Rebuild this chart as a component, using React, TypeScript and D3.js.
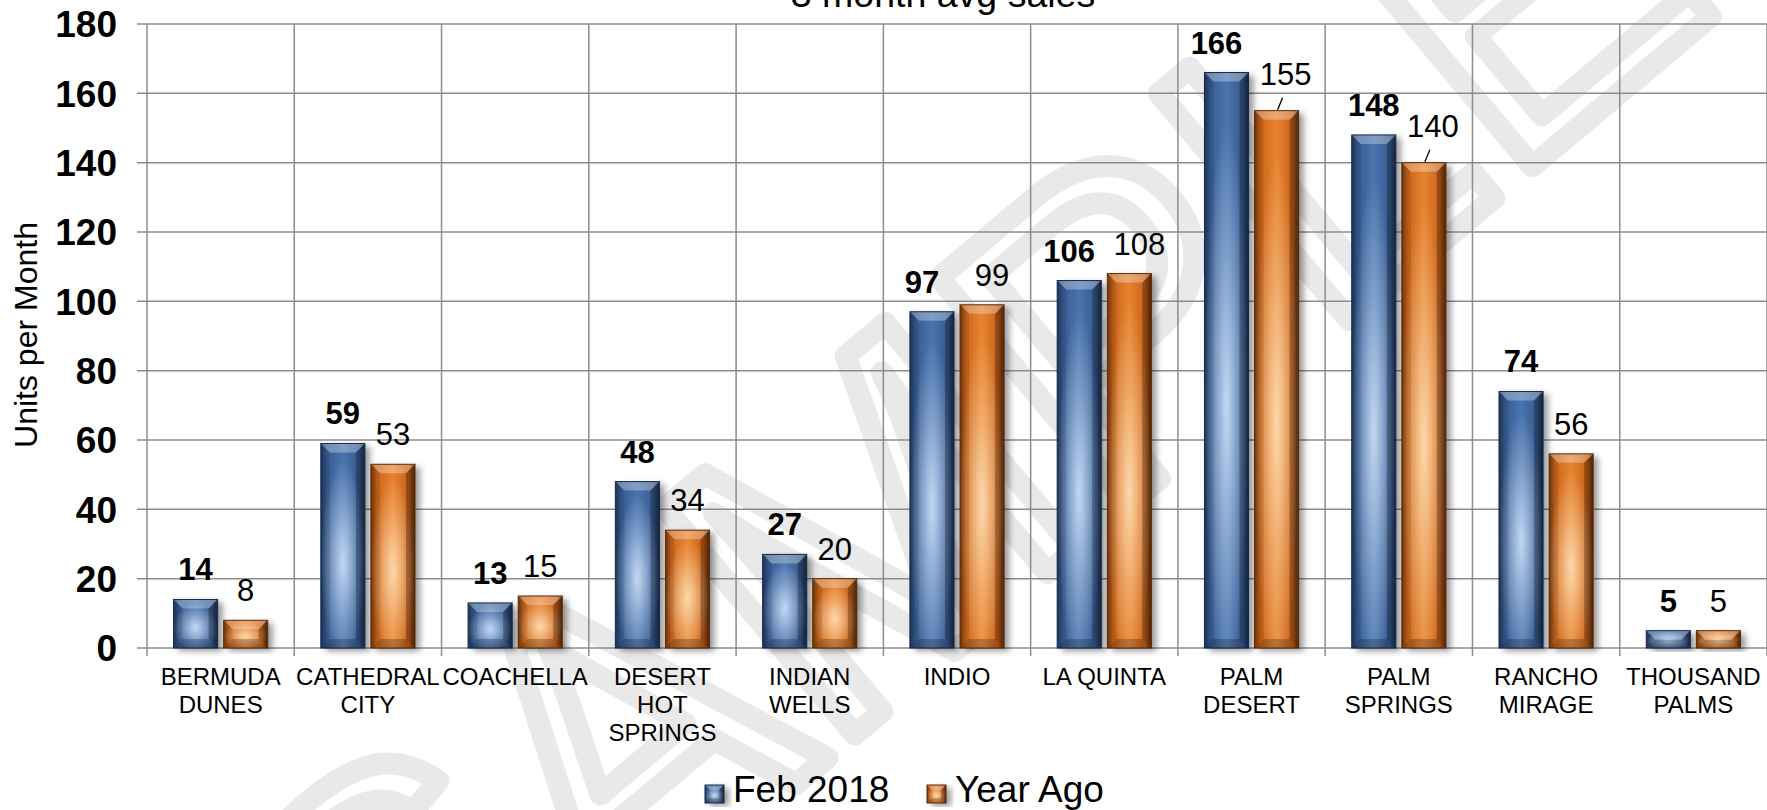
import { useEffect, useRef } from "react";
import * as d3 from "d3";

// chart data
const categories = [
  "BERMUDA DUNES",
  "CATHEDRAL CITY",
  "COACHELLA",
  "DESERT HOT SPRINGS",
  "INDIAN WELLS",
  "INDIO",
  "LA QUINTA",
  "PALM DESERT",
  "PALM SPRINGS",
  "RANCHO MIRAGE",
  "THOUSAND PALMS",
];
// labels that stay on one line
const singleLine = ["LA QUINTA"];
const seriesNames = ["Feb 2018", "Year Ago"];
const feb2018 = [14, 59, 13, 48, 27, 97, 106, 166, 148, 74, 5];
const yearAgo = [8, 53, 15, 34, 20, 99, 108, 155, 140, 56, 5];
const yTicks = [0, 20, 40, 60, 80, 100, 120, 140, 160, 180];
// Year Ago labels pushed up with a leader line
const leaderLabels = ["PALM DESERT", "PALM SPRINGS"];
// groups where the two value labels are pushed apart
const spreadLabels = ["INDIO", "LA QUINTA", "PALM DESERT"];

const W = 1767;
const H = 810;
const FONT = "'Liberation Sans', Arial, sans-serif";

export default function App() {
  const ref = useRef<SVGSVGElement>(null);

  useEffect(() => {
    const svg = d3.select(ref.current);
    svg.selectAll("*").remove();

    const margin = { top: 24, right: 0, bottom: 162, left: 147 };
    const plotW = W - margin.left - margin.right;
    const plotH = H - margin.top - margin.bottom;

    const defs = svg.append("defs");

    // base horizontal gradients + radial highlight
    const addBase = (id: string, stops: [number, string][]) => {
      const g = defs.append("linearGradient").attr("id", id).attr("x1", 0).attr("x2", 1).attr("y1", 0).attr("y2", 0);
      stops.forEach(([o, c]) => g.append("stop").attr("offset", o).attr("stop-color", c));
    };
    addBase("blueBase", [
      [0, "#1f3a63"],
      [0.14, "#395d93"],
      [0.5, "#4a74ae"],
      [0.86, "#385b90"],
      [1, "#1b3257"],
    ]);
    addBase("orangeBase", [
      [0, "#7a3a0c"],
      [0.14, "#cc661c"],
      [0.5, "#e8842f"],
      [0.86, "#c8621a"],
      [1, "#6a3108"],
    ]);
    const addGlow = (id: string, color: string) => {
      const g = defs.append("radialGradient").attr("id", id).attr("cx", 0.5).attr("cy", 0.58).attr("r", 0.5);
      g.append("stop").attr("offset", 0).attr("stop-color", color).attr("stop-opacity", 0.9);
      g.append("stop").attr("offset", 0.55).attr("stop-color", color).attr("stop-opacity", 0.38);
      g.append("stop").attr("offset", 1).attr("stop-color", color).attr("stop-opacity", 0);
    };
    addGlow("blueGlow", "#cfe3fa");
    addGlow("orangeGlow", "#ffe0b8");

    const shadow = defs.append("filter").attr("id", "shadow").attr("x", "-20%").attr("y", "-10%").attr("width", "160%").attr("height", "130%");
    shadow
      .append("feDropShadow")
      .attr("dx", 5)
      .attr("dy", 3)
      .attr("stdDeviation", 3)
      .attr("flood-color", "#000")
      .attr("flood-opacity", 0.4);

    // watermark
    svg
      .append("text")
      .attr("transform", "translate(960,450) rotate(-40)")
      .attr("text-anchor", "middle")
      .attr("dy", "0.35em")
      .style("font-family", FONT)
      .style("font-size", "430px")
      .style("fill", "none")
      .style("stroke", "#e9e9e9")
      .style("stroke-width", 22)
      .style("stroke-linejoin", "round")
      .text("SAMPLE");

    const g = svg.append("g").attr("transform", `translate(${margin.left},${margin.top})`);

    const x = d3.scaleBand().domain(categories).range([0, plotW]).padding(0);
    const xs = d3.scaleBand().domain(seriesNames).range([0, x.bandwidth()]).paddingInner(0.12).paddingOuter(0.53);
    const y = d3.scaleLinear().domain([0, 180]).range([plotH, 0]);

    // grid
    g.selectAll(".hgrid")
      .data(yTicks)
      .enter()
      .append("line")
      .attr("x1", -10)
      .attr("x2", plotW)
      .attr("y1", (d) => y(d))
      .attr("y2", (d) => y(d))
      .style("stroke", "#8c8c8c")
      .style("stroke-width", 1.5);

    const bounds = categories.map((c) => x(c)!).concat([plotW]);
    g.selectAll(".vgrid")
      .data(bounds)
      .enter()
      .append("line")
      .attr("x1", (d) => d)
      .attr("x2", (d) => d)
      .attr("y1", 0)
      .attr("y2", plotH + 8)
      .style("stroke", "#8c8c8c")
      .style("stroke-width", 1.5);

    // y tick labels
    g.selectAll(".ytick")
      .data(yTicks)
      .enter()
      .append("text")
      .attr("x", -30)
      .attr("y", (d) => y(d))
      .attr("dy", "0.36em")
      .attr("text-anchor", "end")
      .style("font-family", FONT)
      .style("font-size", "37px")
      .style("font-weight", "bold")
      .style("fill", "#000")
      .text((d) => d);

    // y title
    svg
      .append("text")
      .attr("transform", "translate(37,335) rotate(-90)")
      .attr("text-anchor", "middle")
      .style("font-family", FONT)
      .style("font-size", "32px")
      .style("fill", "#000")
      .text("Units per Month");

    // title
    svg
      .append("text")
      .attr("x", 943)
      .attr("y", 7)
      .attr("text-anchor", "middle")
      .style("font-family", FONT)
      .style("font-size", "37.5px")
      .style("fill", "#000")
      .text("3 month avg sales");

    // beveled bar
    const drawBar = (parent: any, bx: number, by: number, bw: number, bh: number, kind: "blue" | "orange") => {
      const bar = parent.append("g");
      const body = bar.append("g").attr("filter", "url(#shadow)");
      body
        .append("rect")
        .attr("x", bx)
        .attr("y", by)
        .attr("width", bw)
        .attr("height", bh)
        .style("fill", `url(#${kind}Base)`);
      bar
        .append("rect")
        .attr("x", bx)
        .attr("y", by)
        .attr("width", bw)
        .attr("height", bh)
        .style("fill", `url(#${kind}Glow)`);
      const b = Math.min(9, bh / 2.2, bw / 4);
      const poly = (pts: number[][], fill: string) =>
        bar.append("polygon").attr("points", pts.map((p) => p.join(",")).join(" ")).style("fill", fill);
      poly([[bx, by], [bx + bw, by], [bx + bw - b, by + b], [bx + b, by + b]], "rgba(255,255,255,0.3)");
      poly([[bx, by], [bx + b, by + b], [bx + b, by + bh - b], [bx, by + bh]], "rgba(0,0,0,0.10)");
      poly([[bx + bw, by], [bx + bw - b, by + b], [bx + bw - b, by + bh - b], [bx + bw, by + bh]], "rgba(0,0,0,0.28)");
      poly([[bx, by + bh], [bx + b, by + bh - b], [bx + bw - b, by + bh - b], [bx + bw, by + bh]], "rgba(0,0,0,0.22)");
      bar
        .append("rect")
        .attr("x", bx)
        .attr("y", by)
        .attr("width", bw)
        .attr("height", bh)
        .style("fill", "none")
        .style("stroke", kind === "blue" ? "#15294a" : "#5a2a06")
        .style("stroke-width", 1);
    };

    const barsG = g.append("g");
    categories.forEach((c, i) => {
      const vals = [feb2018[i], yearAgo[i]];
      vals.forEach((v, k) => {
        const bx = x(c)! + xs(seriesNames[k])!;
        drawBar(barsG, bx, y(v), xs.bandwidth(), plotH - y(v), k === 0 ? "blue" : "orange");
      });
    });

    // value labels
    categories.forEach((c, i) => {
      const vals = [feb2018[i], yearAgo[i]];
      vals.forEach((v, k) => {
        const cx = x(c)! + xs(seriesNames[k])! + xs.bandwidth() / 2;
        const lead = k === 1 && leaderLabels.includes(c);
        const spread = spreadLabels.includes(c) ? (k === 0 ? -10 : 10) : 0;
        const base = lead ? y(v) - 26 : y(v) - 19;
        const lx = lead ? cx + 9 : cx + spread;
        g.append("text")
          .attr("x", lx)
          .attr("y", base)
          .attr("text-anchor", "middle")
          .style("font-family", FONT)
          .style("font-size", "31px")
          .style("font-weight", k === 0 ? "bold" : "normal")
          .style("fill", "#000")
          .text(v);
        if (lead) {
          g.append("line")
            .attr("x1", cx + 6)
            .attr("y1", base + 13)
            .attr("x2", cx + 1)
            .attr("y2", y(v) - 1)
            .style("stroke", "#000")
            .style("stroke-width", 1.3);
        }
      });
    });

    // x labels
    categories.forEach((c) => {
      const lines = singleLine.includes(c) ? [c] : c.split(" ");
      const t = g
        .append("text")
        .attr("text-anchor", "middle")
        .style("font-family", FONT)
        .style("font-size", "24px")
        .style("fill", "#000");
      lines.forEach((ln, j) => {
        t.append("tspan")
          .attr("x", x(c)! + x.bandwidth() / 2)
          .attr("y", plotH + 37 + j * 28)
          .text(ln);
      });
    });

    // legend
    const legend = svg.append("g");
    const legendX = [705, 927];
    seriesNames.forEach((s, k) => {
      drawBar(legend, legendX[k], 785, 19, 18, k === 0 ? "blue" : "orange");
      legend
        .append("text")
        .attr("x", legendX[k] + 28)
        .attr("y", 802)
        .style("font-family", FONT)
        .style("font-size", "37px")
        .style("fill", "#000")
        .text(s);
    });
  }, []);

  return (
    <svg
      ref={ref}
      width={W}
      height={H}
      style={{ position: "absolute", left: 0, top: 0, background: "#fff", display: "block" }}
    />
  );
}
